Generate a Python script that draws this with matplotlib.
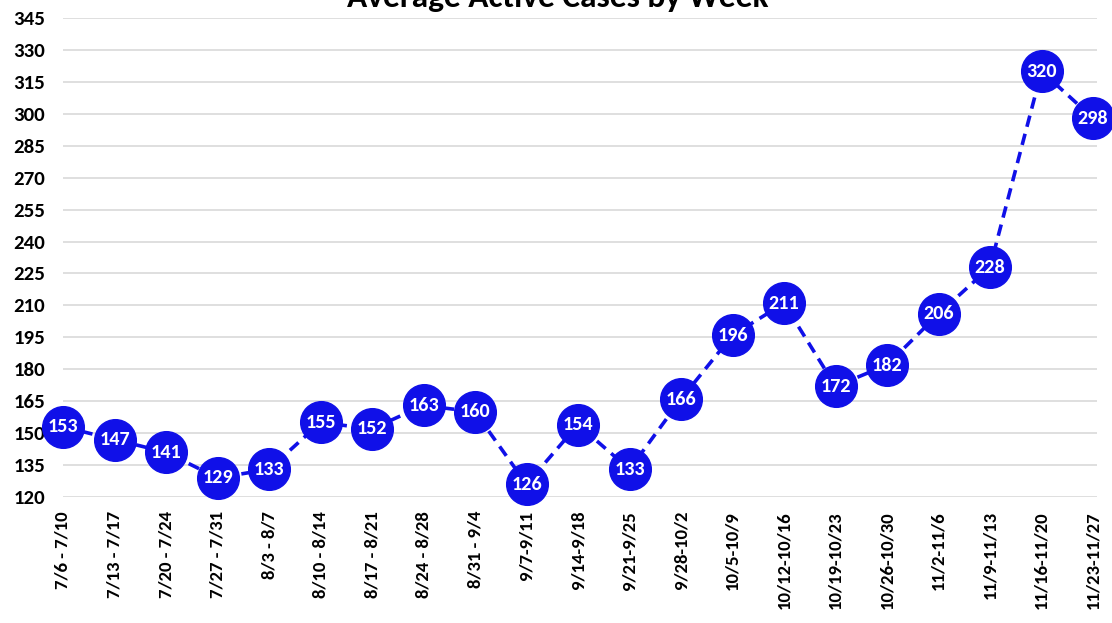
import matplotlib
matplotlib.use("Agg")
import matplotlib.pyplot as plt
from matplotlib import font_manager

weeks = ["7/6 - 7/10", "7/13 - 7/17", "7/20 - 7/24", "7/27 - 7/31", "8/3 - 8/7",
         "8/10 - 8/14", "8/17 - 8/21", "8/24 - 8/28", "8/31 - 9/4", "9/7-9/11",
         "9/14-9/18", "9/21-9/25", "9/28-10/2", "10/5-10/9", "10/12-10/16",
         "10/19-10/23", "10/26-10/30", "11/2-11/6", "11/9-11/13", "11/16-11/20",
         "11/23-11/27"]
cases = [153, 147, 141, 129, 133, 155, 152, 163, 160, 126, 154, 133, 166, 196,
         211, 172, 182, 206, 228, 320, 298]
yticks = list(range(120, 346, 15))

names = {f.name for f in font_manager.fontManager.ttflist}
fam = "DejaVu Sans"
for cand in ["Carlito", "Roboto Condensed", "Liberation Sans Narrow"]:
    if cand in names:
        fam = cand
        break
plt.rcParams['font.family'] = [fam, 'DejaVu Sans']

W, H = 1112, 623
fig = plt.figure(figsize=(W / 100, H / 100), dpi=100)
ax = fig.add_axes([63 / W, 1 - 497 / H, (1097 - 63) / W, (497 - 18) / H])

x = list(range(len(cases)))
blue = "#1010E8"
ax.plot(x, cases, linestyle=(0, (3.2, 2.0)), color=blue, linewidth=2.6,
        marker="o", markersize=30, markerfacecolor=blue, markeredgecolor=blue,
        clip_on=False, zorder=3)
for xi, v in zip(x, cases):
    ax.text(xi, v, str(v), ha="center", va="center", color="white",
            fontsize=14.5, fontweight="bold", zorder=4, clip_on=False)

ax.set_xlim(0.058, 20.077)
ax.set_ylim(120, 345)
ax.set_yticks(yticks)
ax.set_yticklabels([str(t) for t in yticks], fontsize=15, fontweight="bold")
ax.set_xticks(x)
ax.set_xticklabels(weeks, rotation=90, fontsize=13.5, fontweight="bold", va="top")
ax.tick_params(axis="both", length=0)
ax.tick_params(axis="y", pad=13)
ax.tick_params(axis="x", pad=10)
ax.grid(axis="y", color="#d9d9d9", linewidth=1.2, zorder=0)
ax.set_axisbelow(True)
for s in ax.spines.values():
    s.set_visible(False)

fig.text(0.502, 1 - 7 / H, "Average Active Cases by Week", ha="center",
         va="baseline", fontsize=24, fontweight="bold")

fig.savefig("out.png", dpi=100)
